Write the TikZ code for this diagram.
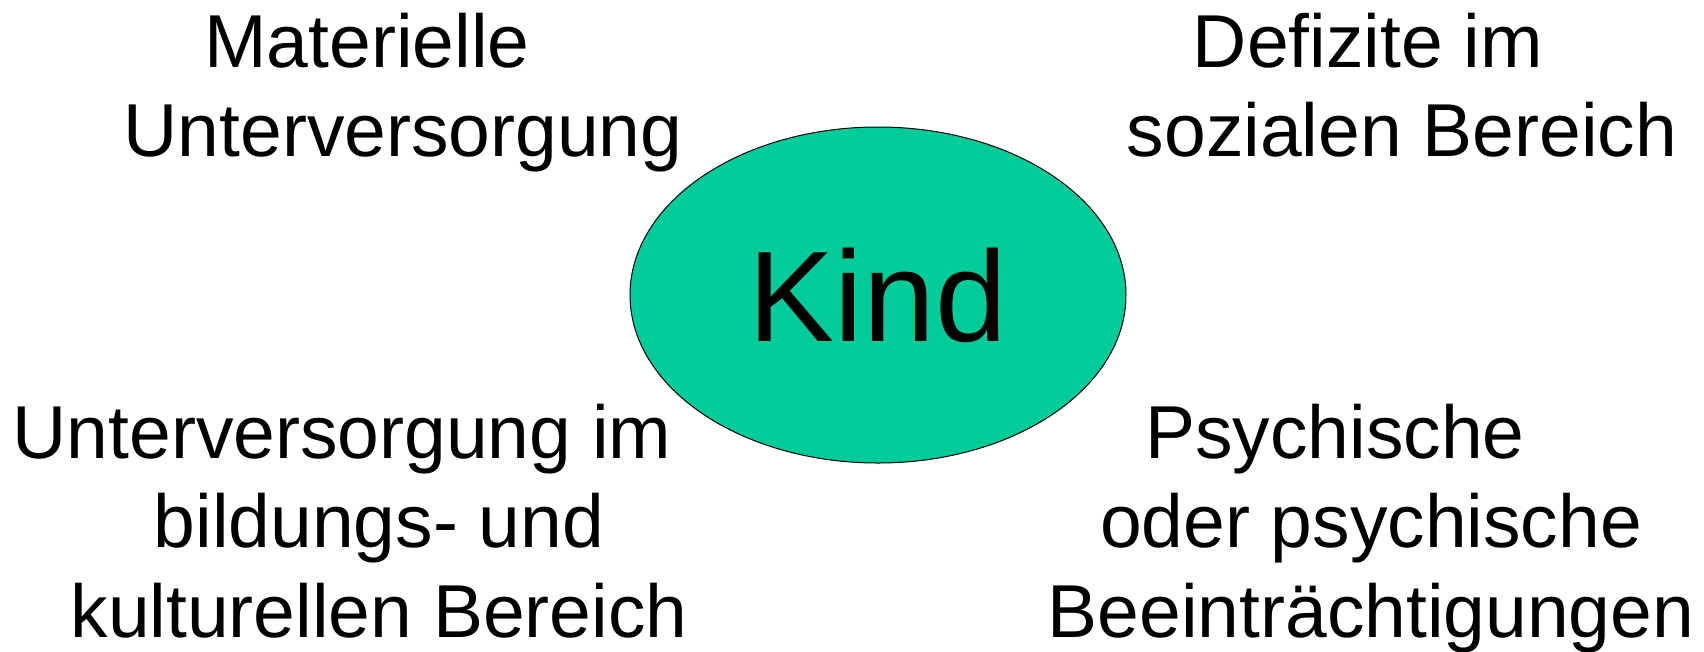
\documentclass[tikz,border=0pt]{standalone}
\usepackage{fontspec}
\setmainfont{Liberation Sans}
\usetikzlibrary{shapes.geometric}
\definecolor{kindgreen}{RGB}{0,204,153}

\tikzset{every picture/.style={line width=0.75pt}}
\tikzset{
  lbl/.style={anchor=base, inner sep=0pt, font=\fontsize{56.25}{67}\selectfont},
  kindbox/.style={ellipse, draw, fill=kindgreen, minimum width=372pt, minimum height=252pt, inner sep=0pt, font=\fontsize{96.75}{116}\selectfont}
}

\begin{document}
\begin{tikzpicture}[x=0.75pt,y=0.75pt,yscale=-1,xscale=1]
	%set diagram left start at 0, and has height of 651
	\useasboundingbox (0,0) rectangle (1704,651);

	%Shape: Ellipse
	\node[kindbox] (kind) at (878,295) {Kind};

	% Text Node
	\draw (367,67) node[lbl] (mat1) {Materielle};
	% Text Node
	\draw (403,156) node[lbl] (mat2) {Unterversorgung};
	% Text Node
	\draw (1368,67) node[lbl] (soz1) {Defizite im};
	% Text Node
	\draw (1402,156) node[lbl] (soz2) {sozialen Bereich};
	% Text Node
	\draw (342,458) node[lbl] (bil1) {Unterversorgung im};
	% Text Node
	\draw (379,547) node[lbl] (bil2) {bildungs- und};
	% Text Node
	\draw (379,637) node[lbl] (bil3) {kulturellen Bereich};
	% Text Node
	\draw (1335,458) node[lbl] (psy1) {Psychische};
	% Text Node
	\draw (1371,547) node[lbl] (psy2) {oder psychische};
	% Text Node
	\draw (1371,637) node[lbl] (psy3) {Beeinträchtigungen};

\end{tikzpicture}
\end{document}
